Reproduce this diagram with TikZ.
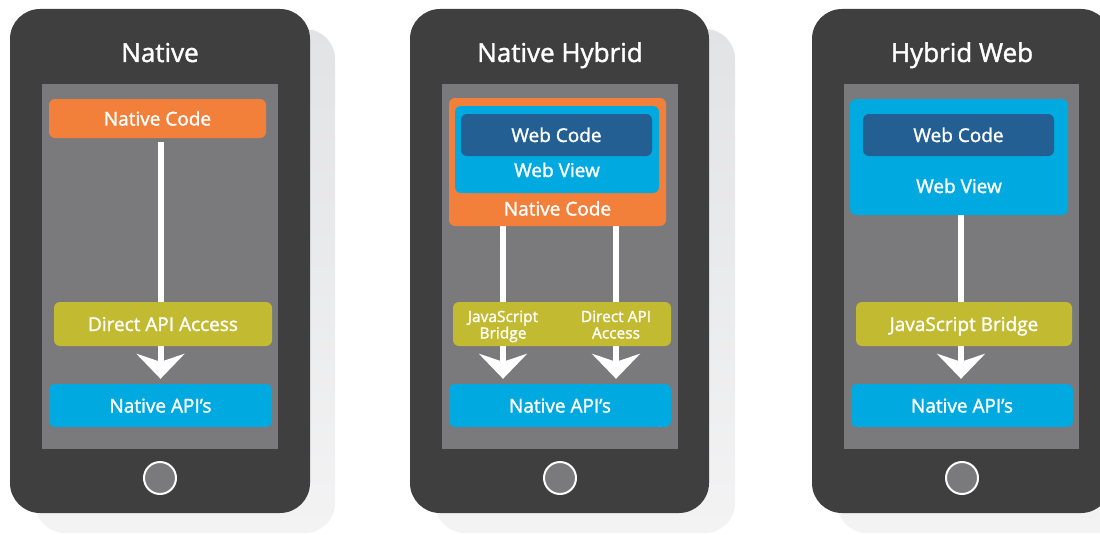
\documentclass[tikz,border=0pt]{standalone}
\usepackage{fontspec}
\setmainfont{Open Sans}
\newfontfamily\semifont{Open Sans}[FakeBold=1.5]
\usetikzlibrary{arrows.meta}
\definecolor{phonebg}{HTML}{3F3F3F}
\definecolor{screenbg}{HTML}{7A7A7C}
\definecolor{orng}{HTML}{F3803A}
\definecolor{sky}{HTML}{00A9E0}
\definecolor{navy}{HTML}{245F93}
\definecolor{olivebox}{HTML}{C2BA31}
\definecolor{shadtop}{HTML}{E2E3E5}
\definecolor{shadbot}{HTML}{F3F3F4}
\pgfdeclarelayer{back}
\pgfdeclarelayer{lines}
\pgfsetlayers{back,lines,main}
\tikzset{
  phonebody/.style={fill=phonebg, rounded corners=30},
  phoneshadow/.style={top color=shadtop, bottom color=shadbot, rounded corners=30},
  screenarea/.style={fill=screenbg},
  homebtn/.style={circle, fill=screenbg, draw=white, line width=2pt, minimum size=32pt, inner sep=0pt},
  titletext/.style={text=white, font=\semifont\fontsize{26}{30}\selectfont, inner sep=0pt, anchor=base},
  box/.style={rounded corners=6, inner sep=0pt, text=white, text height=14pt, text depth=0pt, font=\semifont\fontsize{19}{22}\selectfont},
  lbl/.style={inner sep=0pt, text=white, anchor=base, font=\semifont\fontsize{19}{22}\selectfont},
  smalllbl/.style={inner sep=0pt, text=white, align=center, text height=29pt, text depth=0pt, font=\semifont\fontsize{15.5}{16.5}\selectfont},
  conn/.style={draw=white, line width=6pt, -{Stealth[length=25pt 0, width=48pt 0, inset=8pt 0]}, shorten >=5pt}
}
\begin{document}
\begin{tikzpicture}[x=1pt, y=-1pt]
\useasboundingbox (0,0) rectangle (1100,535);
\clip (0,0) rectangle (1100,535);
\begin{pgfonlayer}{back}
  % phone 1
  \shade[phoneshadow] (35,29) rectangle (335,533);
  \fill[phonebody] (10,9) rectangle (310,513);
  \fill[screenarea] (42,84) rectangle (278,449);
  % phone 2
  \shade[phoneshadow] (435,29) rectangle (735,533);
  \fill[phonebody] (410,9) rectangle (709,513);
  \fill[screenarea] (442,84) rectangle (678,449);
  % phone 3
  \shade[phoneshadow] (837,29) rectangle (1137,533);
  \fill[phonebody] (812,9) rectangle (1111,513);
  \fill[screenarea] (844,84) rectangle (1079,449);
\end{pgfonlayer}

% ---------- Phone 1: Native ----------
\node[titletext] (t1) at (160,62) {Native};
\node[box, fill=orng, minimum width=217pt, minimum height=39pt] (nc1) at (157.5,118.5) {Native Code};
\node[box, fill=olivebox, minimum width=218pt, minimum height=44pt] (dapi1) at (163,324) {Direct API Access};
\node[box, fill=sky, minimum width=223pt, minimum height=43pt] (api1) at (160.5,405.5) {Native API’s};
\node[homebtn] (hb1) at (160,478) {};

% ---------- Phone 2: Native Hybrid ----------
\node[titletext] (t2) at (560,62) {Native Hybrid};
\node[box, fill=orng, minimum width=217pt, minimum height=128pt] (nc2) at (557.5,162) {};
\node[box, fill=sky, minimum width=204pt, minimum height=87pt] (wv2) at (557,149.5) {};
\node[box, fill=navy, minimum width=191pt, minimum height=42pt] (wc2) at (556.5,135) {Web Code};
\node[lbl] (wv2t) at (557,177) {Web View};
\node[lbl] (nc2t) at (557.5,215.5) {Native Code};
\node[box, fill=olivebox, minimum width=218pt, minimum height=44pt] (br2) at (562,324) {};
\node[smalllbl] (jsb2) at (503,324) {JavaScript\\Bridge};
\node[smalllbl] (dap2) at (616,324) {Direct API\\Access};
\node[box, fill=sky, minimum width=222pt, minimum height=43pt] (api2) at (560,405.5) {Native API’s};
\node[homebtn] (hb2) at (560,478) {};

% ---------- Phone 3: Hybrid Web ----------
\node[titletext] (t3) at (962,62) {Hybrid Web};
\node[box, fill=sky, minimum width=218pt, minimum height=116pt] (wv3) at (959,157) {};
\node[box, fill=navy, minimum width=191pt, minimum height=42pt] (wc3) at (958.5,135) {Web Code};
\node[lbl] (wv3t) at (959,193) {Web View};
\node[box, fill=olivebox, minimum width=216pt, minimum height=44pt] (br3) at (964,324) {JavaScript Bridge};
\node[box, fill=sky, minimum width=222pt, minimum height=43pt] (api3) at (962,405.5) {Native API’s};
\node[homebtn] (hb3) at (962,478) {};

% ---------- connectors ----------
\begin{pgfonlayer}{lines}
  \draw[conn, shorten <=4pt] (nc1.south -| api1.center) -- (api1.north);
  \draw[conn] (nc2.south -| jsb2.center) -- (api2.north -| jsb2.center);
  \draw[conn] (nc2.south -| dap2.center) -- (api2.north -| dap2.center);
  \draw[conn] (wv3.south -| 961,0) -- (api3.north -| 961,0);
\end{pgfonlayer}
\end{tikzpicture}
\end{document}
